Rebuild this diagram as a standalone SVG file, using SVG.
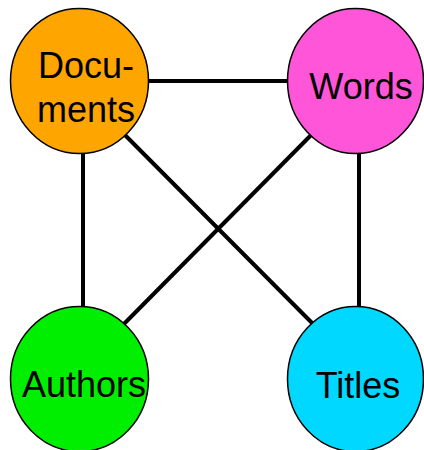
<svg xmlns="http://www.w3.org/2000/svg" width="424" height="450" viewBox="0 0 424 450">
<style>
.edge{stroke:#000;stroke-width:4;fill:none}
.node{stroke:#000;stroke-width:1.5}
.lbl{font-family:"Liberation Sans",Arial,sans-serif;font-size:36px;fill:#000;text-anchor:middle}
</style>
<rect width="424" height="450" fill="#fff"/>
<g id="connectors">
<line class="edge" x1="100" y1="81" x2="330" y2="81"/>
<line class="edge" x1="83" y1="140" x2="83" y2="320"/>
<line class="edge" x1="359" y1="140" x2="359" y2="320"/>
<line class="edge" x1="110" y1="120" x2="327" y2="338"/>
<line class="edge" x1="326" y1="120" x2="110" y2="338"/>
</g>
<g id="documents">
<ellipse class="node" cx="79.5" cy="81" rx="69" ry="72.5" fill="#FFA500"/>
<text class="lbl" x="86" y="78">Docu-</text>
<text class="lbl" x="86" y="122">ments</text>
</g>
<g id="words">
<ellipse class="node" cx="355.5" cy="81" rx="68" ry="72.5" fill="#FF55D8"/>
<text class="lbl" x="361" y="99">Words</text>
</g>
<g id="authors">
<ellipse class="node" cx="79.5" cy="379" rx="69" ry="72.5" fill="#00EE00"/>
<text class="lbl" x="84" y="397">Authors</text>
</g>
<g id="titles">
<ellipse class="node" cx="355.5" cy="379" rx="68" ry="72.5" fill="#00D8FF"/>
<text class="lbl" x="358" y="398">Titles</text>
</g>
</svg>
